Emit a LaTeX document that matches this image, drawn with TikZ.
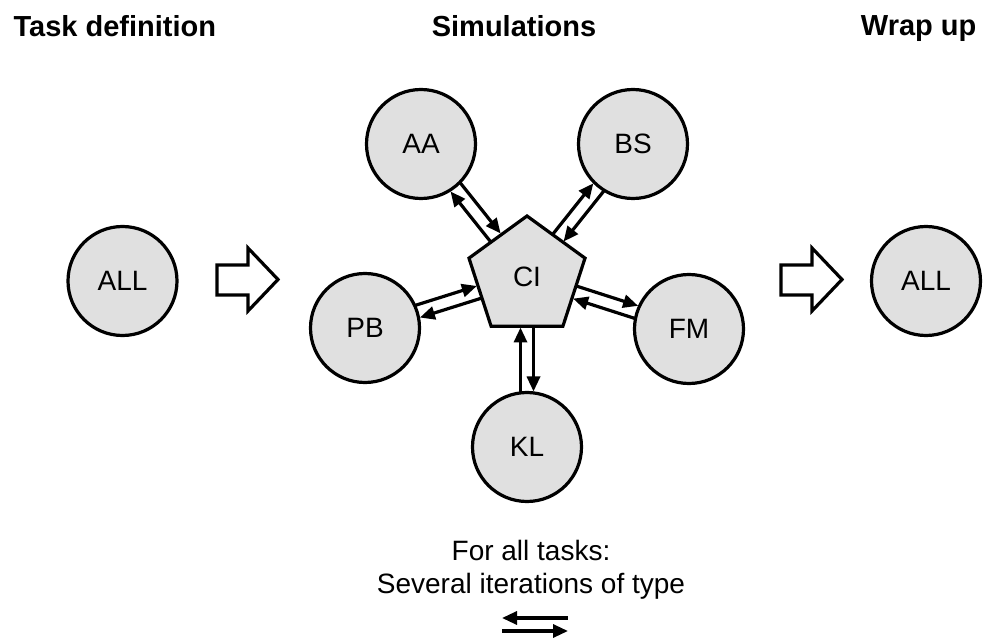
\documentclass[tikz,border=0pt]{standalone}
\usepackage{fontspec}
\setmainfont{Liberation Sans}
\usetikzlibrary{shapes, arrows.meta, calc}

\begin{document}
\begin{tikzpicture}[>={Triangle[length=15pt, width=13pt]}, x=1pt, y=-1pt, line width=3.2pt,
  font=\fontsize{28}{33}\selectfont,
  station/.style={circle, draw, fill=black!12, minimum size=109pt, inner sep=0pt},
  hub/.style={regular polygon, regular polygon sides=5, draw, fill=black!12, minimum size=122pt, inner sep=0pt},
  phase/.style={font=\fontsize{29}{35}\selectfont\bfseries, inner sep=0pt},
  handoff/.style={draw, fill=white, line join=miter},
  outgoing/.style={->, shorten <=49.5pt, shorten >=55.5pt,
    to path={($(\tikztostart)!6.5pt!90:(\tikztotarget)$) -- ($(\tikztotarget)!6.5pt!-90:(\tikztostart)$)}},
  incoming/.style={<-, shorten <=50.5pt, shorten >=54.5pt,
    to path={($(\tikztostart)!6.5pt!-90:(\tikztotarget)$) -- ($(\tikztotarget)!6.5pt!90:(\tikztostart)$)}}]
\useasboundingbox (0,0) rectangle (989,639);
%
\node[phase, anchor=base west] (taskdef) at (12,37) {Task definition};
\node[phase, anchor=base] (sims) at (514,37) {Simulations};
\node[phase, anchor=base east] (wrapup) at (978,36) {Wrap up};
%
\node[station] (start) at (122.5,281) {ALL};
\node[station] (finish) at (926,281) {ALL};
\draw[handoff] (217,265) -- (248,265) -- (248,248) -- (278,279.5) -- (248,311) -- (248,295) -- (217,295) -- cycle;
\draw[handoff, xshift=564pt] (217,265) -- (248,265) -- (248,248) -- (278,279.5) -- (248,311) -- (248,295) -- (217,295) -- cycle;
%
\node[hub] (CI) at (527,277) {CI};
\node[station] (AA) at (421,144) {AA};
\node[station] (BS) at (633,144) {BS};
\node[station] (PB) at (365,328) {PB};
\node[station] (FM) at (689,329) {FM};
\node[station] (KL) at (527,447) {KL};
%
\draw[outgoing] (CI) to (AA);
\draw[incoming] (CI) to (AA);
\draw[outgoing] (CI) to (BS);
\draw[incoming] (CI) to (BS);
\draw[outgoing] (CI) to (PB);
\draw[incoming] (CI) to (PB);
\draw[outgoing] (CI) to (FM);
\draw[incoming] (CI) to (FM);
\draw[outgoing] (CI) to (KL);
\draw[incoming] (CI) to (KL);
%
\node[align=center, inner sep=0pt] (note) at (531,570) {For all tasks:\\Several iterations of type};
\coordinate (upL) at (502,618);
\coordinate (upR) at (568,618);
\coordinate (lowL) at (502,631);
\coordinate (lowR) at (568,631);
\draw[<-] (upL) -- (upR);
\draw[->] (lowL) -- (lowR);
\end{tikzpicture}
\end{document}
